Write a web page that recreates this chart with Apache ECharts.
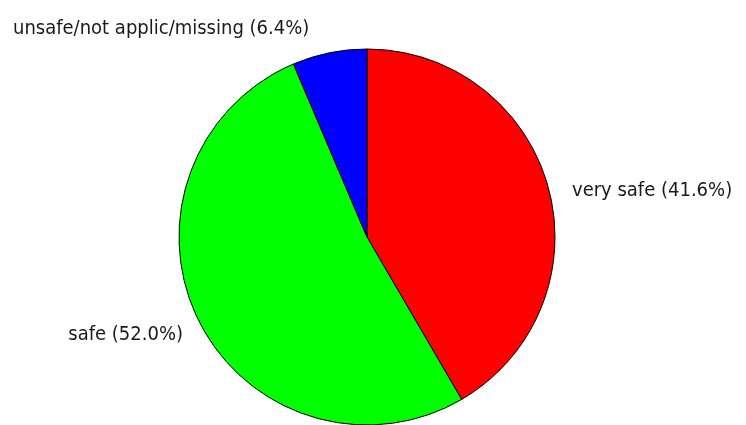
<!DOCTYPE html>
<html><head><meta charset="utf-8">
<script src="https://cdn.jsdelivr.net/npm/echarts@6/dist/echarts.min.js"></script>
<style>html,body{margin:0;padding:0;background:#fff}#c{width:746px;height:425px}</style>
</head><body><div id="c"></div>
<script>
const categories = ['very safe', 'safe', 'unsafe/not applic/missing'];
const values = [41.6, 52.0, 6.4];
const colors = ['#ff0000', '#00ff00', '#0000ff'];

const labelPos = [
  {x: 572, y: 191, align: 'left'},
  {x: 183, y: 335, align: 'right'},
  {x: 13, y: 29, align: 'left'}
];

const chart = echarts.init(document.getElementById('c'), null, {renderer: 'canvas'});
chart.setOption({
  animation: false,
  series: [{
    type: 'pie',
    center: [367, 237],
    radius: 188,
    startAngle: 90,
    clockwise: true,
    avoidLabelOverlap: false,
    data: categories.map((n, i) => ({name: n, value: values[i], itemStyle: {color: colors[i]}})),
    itemStyle: {borderColor: '#000', borderWidth: 1},
    label: {
      show: true,
      position: 'outside',
      formatter: p => p.name + ' (' + p.value.toFixed(1) + '%)',
      fontFamily: '"DejaVu Sans Condensed", sans-serif',
      fontSize: 20,
      color: '#1a1a1a'
    },
    labelLine: {show: false},
    labelLayout: function (params) {
      const p = labelPos[params.dataIndex];
      return {x: p.x, y: p.y, align: p.align, verticalAlign: 'middle'};
    },
    emphasis: {disabled: true}
  }]
});
</script></body></html>
